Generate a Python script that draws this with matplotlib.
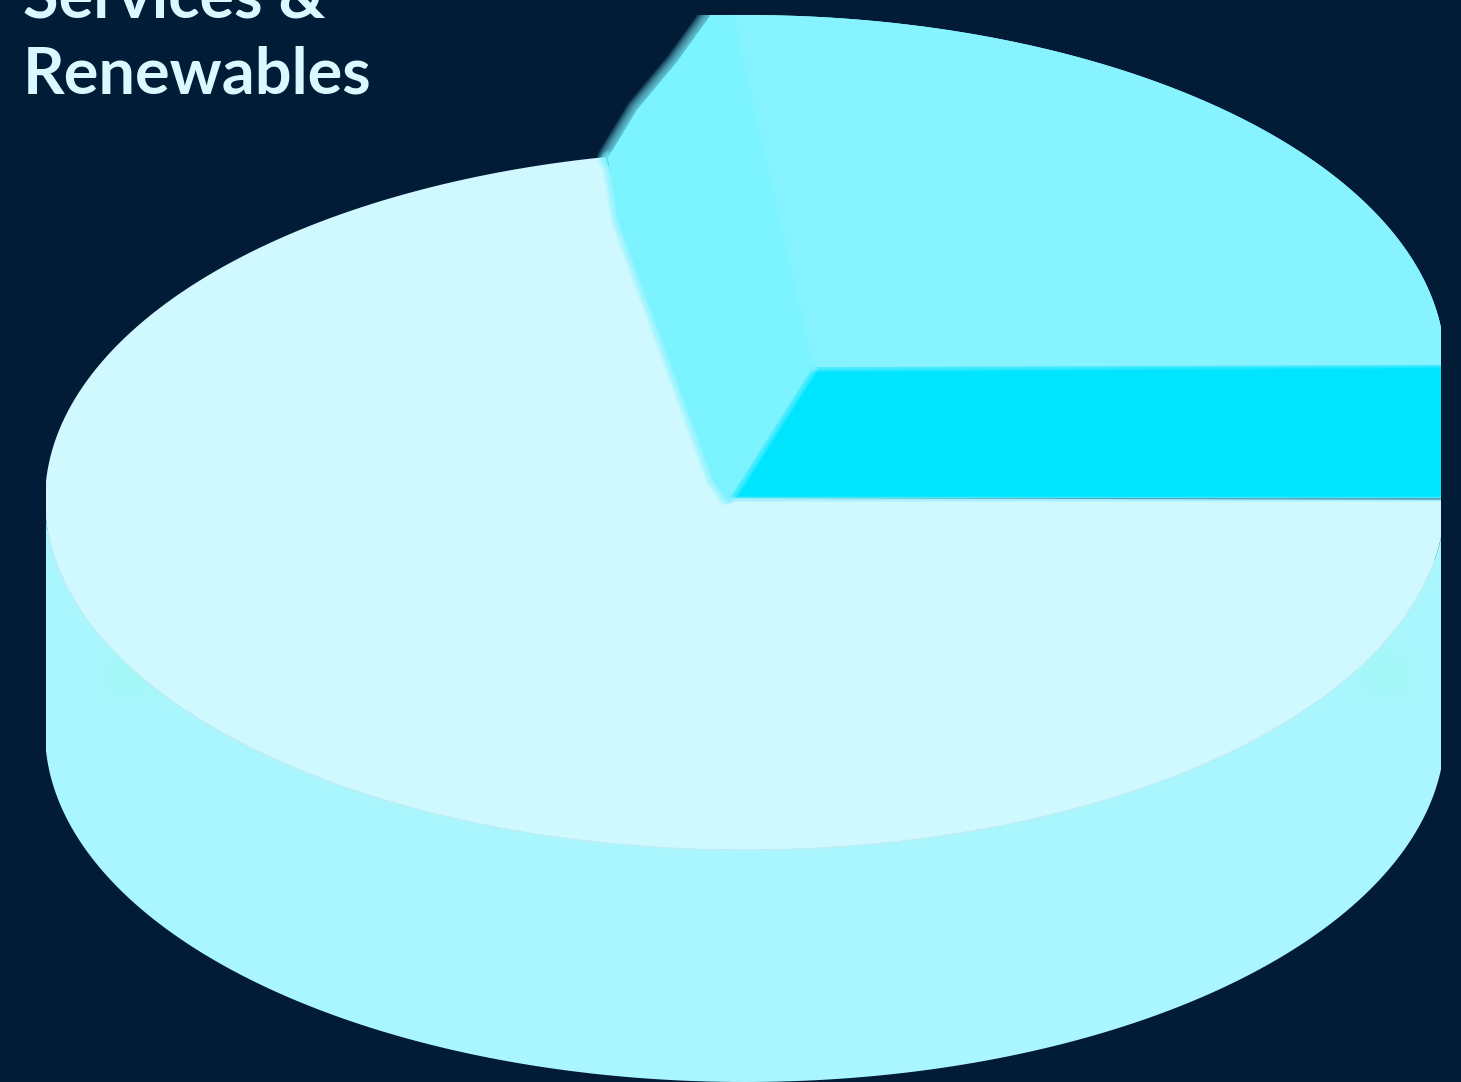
import numpy as np
import matplotlib
matplotlib.use("Agg")
import matplotlib.pyplot as plt
from matplotlib.patches import Rectangle

# Pie values, in percent of the whole
segments = ["Services & Renewables", "Other"]
shares = [28.2, 71.8]
title_lines = ["Services &", "Renewables"]

BG = "#021b36"
TOP_LIGHT = "#d0f9ff"
SIDE_LIGHT = "#a9f6ff"
TOP_RAISED = "#87f3ff"
WALL_RAISED = "#7bf4ff"
WALL_CUT = "#00e5ff"
TEXT = "#d8f9ff"

W, H = 1461, 1082
CX, CY, RX, RY = 745, 500, 700, 350
DEPTH = 232
LIFT = 135

fig = plt.figure(figsize=(W / 100, H / 100), dpi=100, facecolor=BG)
ax = fig.add_axes([0, 0, 1, 1])
ax.set_xlim(0, W)
ax.set_ylim(H, 0)
ax.axis("off")

clip = Rectangle((46, 15), 1395, H - 15, transform=ax.transData)
glow_clip = Rectangle((46, 500), 1366, 196, transform=ax.transData)


def arc(a0, a1, cy=CY, n=240):
    t = np.radians(np.linspace(a0, a1, n))
    return CX + RX * np.cos(t), cy - RY * np.sin(t)


def poly(x, y, color, z):
    for p in ax.fill(x, y, color=color, lw=0, zorder=z):
        p.set_clip_path(clip)


def soft_edge(x, y, color, width, z, steps=8):
    # Feather a boundary with stacked translucent strokes
    for w in np.linspace(width, 1, steps):
        ln, = ax.plot(x, y, color=color, lw=w, alpha=0.14, zorder=z,
                      solid_capstyle="round")
        ln.set_clip_path(clip)


raised_angle = shares[0] / sum(shares) * 360

# Drum side below the rim
xb, yb = arc(180, 360, CY + DEPTH)
xt, yt = arc(360, 180, CY)
poly(np.r_[xb, xt], np.r_[yb, yt], SIDE_LIGHT, 1)

# Faint greenish glow where the rim meets the side
for gx in (128, 1385):
    for ms in np.linspace(55, 12, 7):
        glow, = ax.plot([gx], [676], "o", ms=ms, color="#a2fbee", alpha=0.07,
                        mew=0, zorder=1.5)
        glow.set_clip_path(glow_clip)

# Main segment face
xm, ym = arc(raised_angle, 360)
poly(np.r_[730, xm], np.r_[498, ym], TOP_LIGHT, 2)
rim_x, rim_y = arc(185, 350)
rim, = ax.plot(rim_x, rim_y, color="#bfeef5", lw=1, zorder=2.2)
rim.set_clip_path(clip)

# Raised segment: backing shape, cut wall, top face, then inner wall
arc_x, arc_y = arc(0, 91, CY - LIFT)
edge_x = [726, 713, 662, 618, 608]
edge_y = [498, 480, 340, 220, 158]
shoulder_x = [608, 637, 677, 713]
shoulder_y = [158, 110, 62, 12]

poly(edge_x + shoulder_x[1:] + list(arc_x[::-1]) + [1445, 1445],
     edge_y + shoulder_y[1:] + list(arc_y[::-1]) + [363, 498],
     TOP_RAISED, 2.9)

wall_x = [730, 813, 1445, 1445]
wall_y = [498, 367, 363, 498]
poly(wall_x, wall_y, WALL_CUT, 3)

poly(np.r_[813, arc_x], np.r_[367, arc_y], TOP_RAISED, 4)

inner_x = edge_x + shoulder_x[1:] + [arc_x[-1], 813]
inner_y = edge_y + shoulder_y[1:] + [arc_y[-1], 367]
poly(inner_x, inner_y, WALL_RAISED, 4.5)

soft_edge([arc_x[-1], 813], [arc_y[-1], 367], "#82f4ff", 8, 4.8)
soft_edge([813, 1445], [366, 362], TOP_RAISED, 9, 5)
soft_edge([730, 813], [498, 367], WALL_RAISED, 9, 5)
soft_edge(edge_x, edge_y, WALL_RAISED, 11, 3.5)
soft_edge(shoulder_x, shoulder_y, WALL_RAISED, 16, 3.5, steps=10)
soft_edge([730, 1445], [499, 499], "#8ff0ff", 4, 5)

# Heading, running off the top of the canvas
for line, baseline in zip(title_lines, (18, 94)):
    ax.text(23, baseline, line, color=TEXT, fontsize=46.7, family="Lato",
            fontweight="bold", ha="left", va="baseline", zorder=6)

fig.savefig("out.png", dpi=100, facecolor=BG)
